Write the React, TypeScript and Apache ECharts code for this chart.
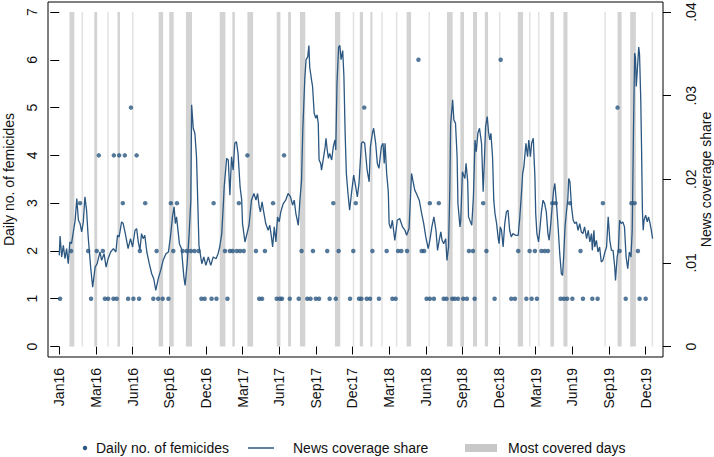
import React, { useEffect, useRef } from "react";
import * as echarts from "echarts";

// x values are days since 1 Jan 2016
const xTickDays = [0, 90, 180, 270, 360, 450, 540, 630, 720, 810, 900, 990, 1080, 1170, 1260, 1350, 1440];
const leftTicks = [0, 1, 2, 3, 4, 5, 6, 7];
const rightTicks = [0, 0.01, 0.02, 0.03, 0.04];

// Daily number of femicides (days with n femicides)
const daysWith1 = [2, 78, 112, 120, 133, 141, 169, 182, 196, 231, 243, 254, 268, 349, 357, 374, 386, 413, 491, 498, 534, 542, 547, 566, 588, 609, 617, 630, 638, 664, 679, 714, 736, 742, 755, 763, 785, 818, 826, 902, 910, 920, 944, 951, 965, 971, 979, 992, 1001, 1020, 1069, 1110, 1119, 1147, 1160, 1173, 1231, 1239, 1247, 1260, 1286, 1309, 1322, 1391, 1425, 1440];
const daysWith2 = [29, 71, 92, 107, 198, 239, 280, 303, 313, 323, 332, 342, 407, 419, 426, 436, 444, 453, 483, 505, 595, 623, 658, 686, 722, 769, 804, 832, 840, 854, 890, 896, 1006, 1016, 1049, 1127, 1155, 1168, 1184, 1192, 1200, 1280, 1376, 1421];
const daysWith3 = [51, 156, 211, 274, 289, 379, 441, 525, 673, 728, 910, 932, 1041, 1211, 1219, 1254, 1335, 1405, 1413];
const daysWith4 = [97, 134, 147, 161, 190, 462, 552];
const daysWith5 = [176, 749, 1371];
const daysWith6 = [882, 1084];

// Most covered days: [first day, last day]
const coveredRanges = [
  [25, 36], [56, 56], [86, 92], [119, 119], [143, 148], [180, 180], [244, 254], [270, 280], [311, 325],
  [394, 407], [425, 430], [462, 475], [534, 542], [562, 568], [591, 603], [677, 689], [722, 722], [738, 745],
  [764, 768], [792, 792], [828, 828], [853, 863], [908, 908], [952, 965], [985, 993], [1016, 1025], [1045, 1052],
  [1081, 1081], [1126, 1138], [1155, 1155], [1177, 1177], [1206, 1214], [1238, 1247], [1340, 1340], [1371, 1380],
  [1402, 1415], [1456, 1456],
];

// News coverage share: [day, share]
const coverageSeries = [
  [0, .0109], [2, .0132], [6, .0107], [10, .0121], [14, .0105], [18, .0117], [22, .0099], [26, .0125], [30, .0123],
  [39, .0151], [43, .0177], [47, .0151], [51, .0147], [55, .0137], [59, .0149], [63, .0179], [67, .0163], [71, .0131],
  [77, .0095], [82, .0071], [88, .0095], [93, .0099], [100, .0113], [104, .0103], [110, .0111], [115, .0095], [120, .0105],
  [126, .0113], [133, .0117], [139, .0113], [143, .0133], [147, .0131], [153, .0149], [157, .0147], [163, .0133], [169, .0117],
  [175, .0129], [180, .0119], [186, .0139], [190, .0141], [194, .0125], [198, .0115], [202, .0135], [206, .0129], [210, .0133],
  [215, .0113], [221, .0099], [227, .0087], [232, .0081], [237, .0067], [243, .0081], [249, .0091], [255, .0103], [262, .0111],
  [268, .0113], [273, .0131], [278, .0155], [282, .0167], [285, .0147], [288, .0155], [295, .0123], [300, .0117], [306, .0083],
  [309, .0073], [314, .0099], [319, .0135], [323, .0175], [325, .0289], [329, .0261], [333, .0255], [337, .0227], [340, .0175],
  [343, .0121], [350, .0099], [355, .0107], [360, .0097], [366, .0107], [372, .0097], [378, .0107], [385, .0105], [390, .0111],
  [394, .0119], [399, .0135], [403, .0171], [405, .0191], [411, .0225], [415, .0223], [419, .0181], [423, .0227], [427, .0211],
  [431, .0243], [435, .0245], [439, .0231], [444, .0191], [448, .0175], [450, .0147], [456, .0125], [461, .0135], [466, .0145],
  [472, .0175], [478, .0183], [483, .0175], [487, .0183], [491, .0167], [494, .0161], [498, .0173], [502, .0161], [507, .0147],
  [513, .0139], [517, .0145], [521, .0131], [524, .0119], [528, .0143], [532, .0125], [536, .0155], [540, .0149], [544, .0161],
  [550, .0171], [556, .0175], [562, .0183], [568, .0179], [573, .0169], [577, .0175], [581, .0159], [587, .0145], [591, .0175],
  [595, .0199], [598, .0259], [603, .0321], [606, .0343], [610, .0346], [613, .0360], [615, .0334], [620, .0317], [622, .0311],
  [626, .0279], [630, .0273], [633, .0277], [636, .0267], [638, .0223], [642, .0219], [644, .0211], [648, .0223], [653, .0239],
  [655, .0249], [658, .0235], [661, .0225], [664, .0231], [669, .0223], [673, .0239], [677, .0247], [679, .0235], [682, .0315],
  [686, .0358], [689, .0360], [692, .0343], [696, .0354], [699, .0323], [702, .0255], [705, .0207], [709, .0183], [713, .0163],
  [718, .0185], [723, .0205], [728, .0191], [732, .0179], [736, .0195], [742, .0243], [746, .0245], [750, .0243], [756, .0211],
  [761, .0197], [764, .0239], [769, .0255], [772, .0261], [777, .0243], [781, .0219], [785, .0213], [791, .0239], [795, .0243],
  [798, .0219], [800, .0243], [804, .0207], [808, .0185], [810, .0147], [814, .0141], [818, .0151], [824, .0127], [830, .0151],
  [836, .0153], [843, .0143], [849, .0139], [853, .0133], [859, .0141], [865, .0207], [869, .0197], [873, .0187], [877, .0183],
  [884, .0175], [890, .0159], [895, .0147], [900, .0131], [906, .0117], [910, .0127], [915, .0143], [920, .0155], [925, .0139],
  [929, .0115], [933, .0127], [937, .0137], [940, .0127], [944, .0123], [949, .0129], [952, .0103], [956, .0119], [959, .0187],
  [961, .0265], [966, .0295], [969, .0271], [973, .0267], [977, .0227], [979, .0171], [984, .0143], [986, .0151], [990, .0209],
  [996, .0201], [999, .0219], [1003, .0197], [1005, .0155], [1013, .0145], [1017, .0179], [1021, .0247], [1024, .0233], [1028, .0255],
  [1032, .0261], [1037, .0243], [1041, .0185], [1044, .0223], [1047, .0263], [1051, .0275], [1054, .0257], [1057, .0247], [1060, .0255],
  [1064, .0227], [1067, .0175], [1070, .0159], [1074, .0147], [1078, .0129], [1080, .0123], [1083, .0143], [1086, .0139], [1090, .0119],
  [1094, .0147], [1098, .0161], [1102, .0163], [1106, .0139], [1110, .0131], [1114, .0135], [1121, .0133], [1127, .0133], [1131, .0155],
  [1135, .0183], [1138, .0207], [1141, .0215], [1146, .0243], [1150, .0227], [1153, .0247], [1157, .0227], [1160, .0243], [1164, .0249],
  [1168, .0203], [1170, .0159], [1173, .0135], [1177, .0125], [1180, .0139], [1184, .0161], [1188, .0175], [1192, .0171], [1196, .0161],
  [1200, .0135], [1203, .0127], [1207, .0147], [1211, .0171], [1214, .0187], [1217, .0195], [1221, .0171], [1225, .0143], [1229, .0111],
  [1233, .0087], [1236, .0085], [1239, .0111], [1242, .0143], [1245, .0159], [1249, .0177], [1251, .0201], [1254, .0197], [1258, .0167],
  [1262, .0151], [1266, .0147], [1270, .0149], [1274, .0139], [1278, .0147], [1282, .0137], [1286, .0135], [1290, .0143], [1295, .0129],
  [1299, .0139], [1303, .0125], [1307, .0135], [1309, .0115], [1313, .0139], [1315, .0119], [1319, .0127], [1323, .0113], [1327, .0119],
  [1331, .0101], [1335, .0103], [1340, .0113], [1344, .0119], [1348, .0155], [1352, .0127], [1356, .0115], [1360, .0115], [1364, .0095],
  [1366, .0079], [1370, .0107], [1373, .0115], [1376, .0151], [1380, .0147], [1384, .0149], [1388, .0143], [1392, .0107], [1396, .0093],
  [1400, .0113], [1404, .0107], [1407, .0139], [1408, .0175], [1410, .0255], [1413, .0351], [1415, .0346], [1417, .0311], [1420, .0334],
  [1423, .0358], [1425, .0349], [1428, .0295], [1430, .0235], [1432, .0163], [1434, .0139], [1436, .0151], [1440, .0157], [1444, .0149],
  [1447, .0155], [1450, .0149], [1454, .0139], [1457, .0129],
];

const MONTHS = ["Jan", "Feb", "Mar", "Apr", "May", "Jun", "Jul", "Aug", "Sep", "Oct", "Nov", "Dec"];
const fmtDay = (d: number) => {
  const dt = new Date(Date.UTC(2016, 0, 1) + Math.round(d) * 86400000);
  return MONTHS[dt.getUTCMonth()] + String(dt.getUTCFullYear()).slice(2);
};
const fmtShare = (v: number) => (v === 0 ? "0" : String(+v.toFixed(2)).replace(/^0/, ""));

const NAVY = "#2b5781";
const FONT = "'Liberation Sans', Arial, sans-serif";
const TXT = "#111";
const Y_MIN = -0.22;
const Y_MAX = 7.21;
const SHARE_PER_UNIT = 0.04 / 7;

export default function App() {
  const ref = useRef<HTMLDivElement>(null);
  useEffect(() => {
    if (!ref.current) return;
    const chart = echarts.init(ref.current, null, { renderer: "svg" });
    const dots: number[][] = [];
    [daysWith1, daysWith2, daysWith3, daysWith4, daysWith5, daysWith6].forEach((arr, i) =>
      arr.forEach((d) => dots.push([d, i + 1]))
    );
    const gridLeft = 48, gridTop = 2, gridW = 615, gridH = 355;
    const midY = 179.5;
    chart.setOption({
      animation: false,
      grid: {
        left: gridLeft, top: gridTop, width: gridW, height: gridH,
        containLabel: false, outerBoundsMode: "none",
      },
      xAxis: {
        type: "value",
        min: -27.7,
        max: 1482.6,
        axisLine: { show: false },
        splitLine: { show: false },
        axisTick: { show: true, customValues: xTickDays, length: 8, lineStyle: { color: "#000", width: 1 } },
        axisLabel: {
          customValues: xTickDays, rotate: 90, formatter: fmtDay, fontSize: 14, fontFamily: FONT, color: TXT, margin: 11,
        },
      },
      yAxis: [
        {
          type: "value", position: "left", min: Y_MIN, max: Y_MAX,
          axisLine: { show: false }, splitLine: { show: false },
          axisTick: { show: true, customValues: leftTicks, length: 9, lineStyle: { color: "#000" } },
          axisLabel: { customValues: leftTicks, rotate: 90, fontSize: 14, fontFamily: FONT, color: TXT, margin: 9.5 },
        },
        {
          type: "value", position: "right", min: Y_MIN * SHARE_PER_UNIT, max: Y_MAX * SHARE_PER_UNIT,
          axisLine: { show: false }, splitLine: { show: false },
          axisTick: { show: true, customValues: rightTicks, length: 8, lineStyle: { color: "#000" } },
          axisLabel: { customValues: rightTicks, rotate: 90, fontSize: 14, fontFamily: FONT, color: TXT, margin: 21, formatter: fmtShare },
        },
      ],
      series: [
        {
          name: "Most covered days",
          type: "custom",
          xAxisIndex: 0,
          yAxisIndex: 0,
          z: 1,
          encode: { x: [0, 1] },
          data: coveredRanges,
          renderItem: (params: any, api: any) => {
            const s = api.value(0), e = api.value(1);
            const p0 = api.coord([s, 7]);
            const p1 = api.coord([e + 1, 0]);
            const w = p1[0] - p0[0];
            const thin = w < 2;
            const wd = Math.max(w, 1.5);
            return {
              type: "rect",
              shape: { x: p0[0] + (w - wd) / 2, y: p0[1], width: wd, height: p1[1] - p0[1] },
              style: { fill: thin ? "#e2e2e2" : "#d3d3d3" },
            };
          },
        },
        {
          name: "Daily no. of femicides",
          type: "scatter",
          yAxisIndex: 0,
          z: 3,
          symbol: "circle",
          symbolSize: 4.5,
          itemStyle: { color: NAVY },
          data: dots,
        },
        {
          name: "News coverage share",
          type: "line",
          yAxisIndex: 1,
          z: 4,
          showSymbol: false,
          lineStyle: { color: NAVY, width: 1.3 },
          data: coverageSeries,
        },
      ],
      graphic: [
        {
          type: "rect", silent: true, z: 10,
          shape: { x: gridLeft, y: gridTop, width: gridW, height: gridH },
          style: { fill: "none", stroke: "#000", lineWidth: 1 },
        },
        {
          type: "text", x: 9, y: midY, rotation: Math.PI / 2,
          style: { text: "Daily no. of femicides", font: `14px ${FONT}`, fill: TXT, align: "center", verticalAlign: "middle" },
        },
        {
          type: "text", x: 706, y: midY, rotation: Math.PI / 2,
          style: { text: "News coverage share", font: `14px ${FONT}`, fill: TXT, align: "center", verticalAlign: "middle" },
        },
        { type: "circle", shape: { cx: 85, cy: 448, r: 2.2 }, style: { fill: NAVY } },
        { type: "text", x: 96, y: 448, style: { text: "Daily no. of femicides", font: `14px ${FONT}`, fill: TXT, verticalAlign: "middle" } },
        { type: "line", shape: { x1: 248, y1: 448, x2: 274, y2: 448 }, style: { stroke: NAVY, lineWidth: 1.5 } },
        { type: "text", x: 293, y: 448, style: { text: "News coverage share", font: `14px ${FONT}`, fill: TXT, verticalAlign: "middle" } },
        { type: "rect", shape: { x: 465, y: 444, width: 32, height: 8 }, style: { fill: "#c8c8c8" } },
        { type: "text", x: 508, y: 448, style: { text: "Most covered days", font: `14px ${FONT}`, fill: TXT, verticalAlign: "middle" } },
      ],
    });
    return () => chart.dispose();
  }, []);
  return <div ref={ref} style={{ position: "absolute", left: 0, top: 0, width: 714, height: 457 }} />;
}
